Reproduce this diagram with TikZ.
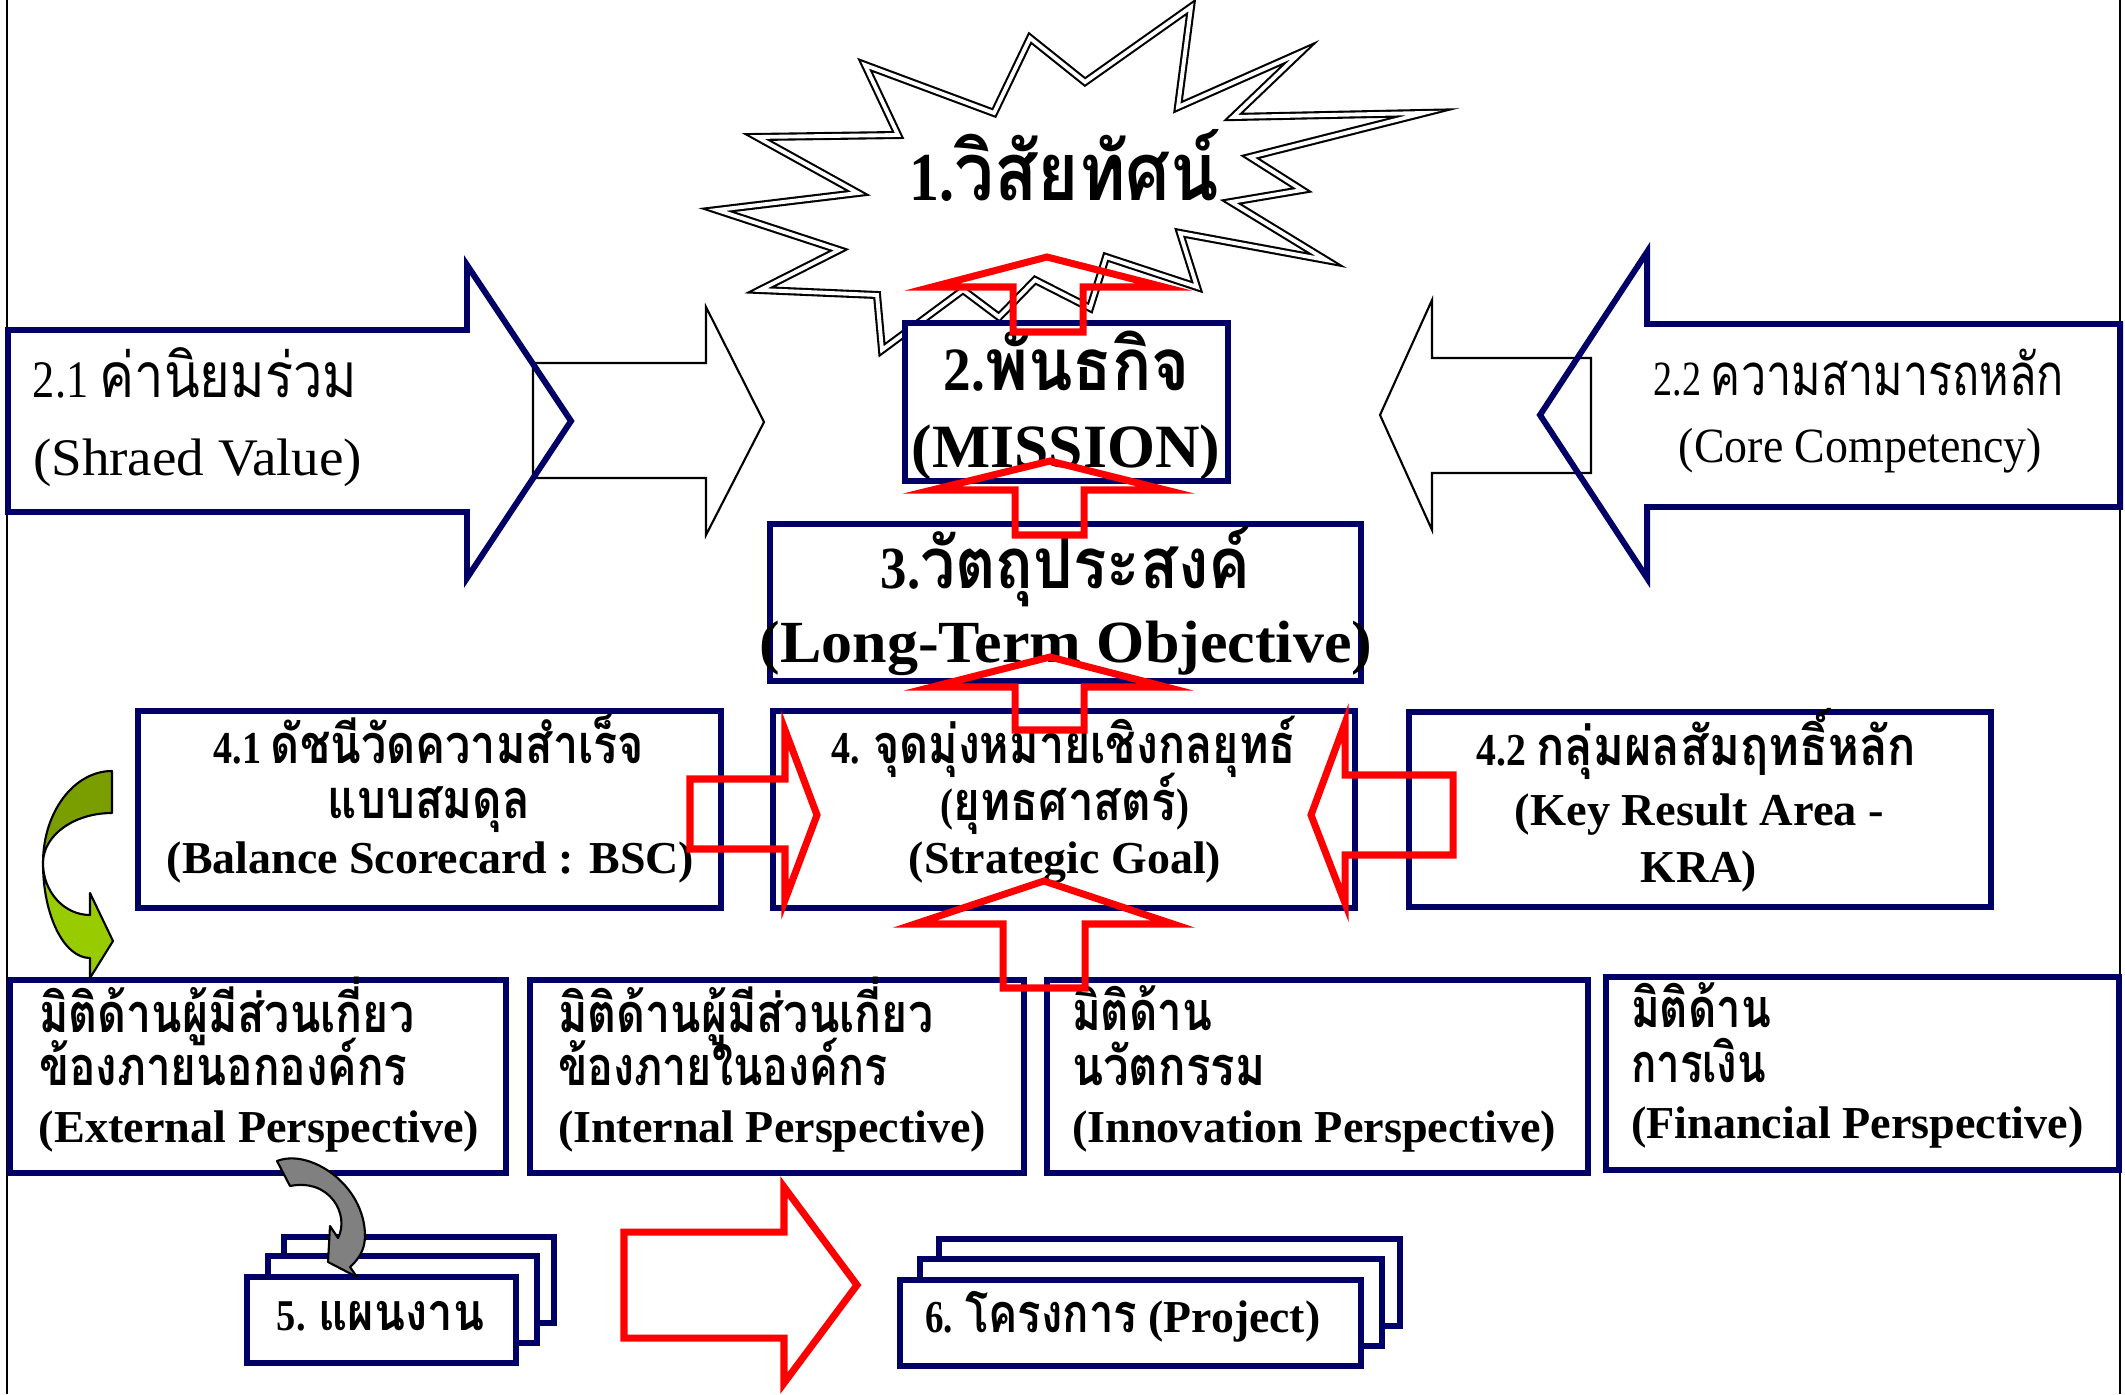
\documentclass[tikz,border=0pt]{standalone}
\usepackage{fontspec}
\usepackage{graphicx}
\setmainfont{Liberation Serif}
\newfontfamily\thf[Script=Thai,Scale=1.18]{Loma}
\newcommand\T[1]{{\thf #1}}
\newcommand\fw[2]{\resizebox{#1cm}{\height}{#2}}
\definecolor{navyc}{RGB}{0,0,102}
\definecolor{olivec}{RGB}{122,158,0}
\definecolor{limec}{RGB}{153,204,0}
\definecolor{grayc}{RGB}{128,128,128}
\begin{document}
\begin{tikzpicture}[x=0.01cm,y=-0.01cm,
  navybox/.style={draw=navyc,line width=1.7pt,fill=white,inner sep=0pt,outer sep=0pt},
  redarrow/.style={draw=red,line width=2pt,line join=miter},
  navyarrow/.style={draw=navyc,line width=1.7pt,line join=miter},
  thinarrow/.style={draw=black,line width=0.6pt,fill=white,line join=miter},
  starshape/.style={draw=black,double=white,line width=0.6pt,double distance=1.1pt,fill=white,line join=miter},
  curvedarrow/.style={draw=black,line width=0.6pt,line join=round},
  txt/.style={inner sep=0pt,outer sep=0pt},
  fstar/.style={txt,font=\fontsize{19.5}{22}\selectfont\bfseries},
  fbig/.style={txt,font=\fontsize{17.5}{20}\selectfont\bfseries},
  fobj/.style={txt,font=\fontsize{17}{20}\selectfont\bfseries},
  fmid/.style={txt,font=\fontsize{13}{15}\selectfont\bfseries},
  fsmall/.style={txt,font=\fontsize{12.5}{15}\selectfont\bfseries},
  freg/.style={txt,font=\fontsize{15}{18}\selectfont},
  fregb/.style={txt,font=\fontsize{14}{17}\selectfont}
]
\useasboundingbox (0,0) rectangle (2125,1394);

% frame sides
\coordinate (fl1) at (7,0); \coordinate (fl2) at (7,1394);
\coordinate (fr1) at (2120,0); \coordinate (fr2) at (2120,1394);
\draw[line width=0.6pt] (fl1) -- (fl2);
\draw[line width=0.6pt] (fr1) -- (fr2);

% thin white arrows
\draw[thinarrow] (533,363) -- (706,363) -- (706,307) -- (764,422) -- (706,535) -- (706,478) -- (533,478) -- cycle;
\draw[thinarrow] (1591,358) -- (1432,358) -- (1432,300) -- (1380,415) -- (1432,530) -- (1432,473) -- (1591,473) -- cycle;

% starburst
\draw[starshape] (1191,7) -- (1178,107) -- (1300,53) -- (1233,117) -- (1424,113) -- (1250,157)
  -- (1302,190) -- (1231,202) -- (1326,260) -- (1180,233) -- (1197,287) -- (1106,257)
  -- (1090,308) -- (1035,280) -- (999,317) -- (963,290) -- (882,350) -- (877,295)
  -- (760,290) -- (839,250) -- (717,210) -- (858,193) -- (757,137) -- (898,135)
  -- (865,65) -- (994,113) -- (1030,38) -- (1085,82) -- cycle;
\node[fstar,anchor=base] (vision) at (1064.5,200) {\fw{3.09}{1.\T{วิสัยทัศน์}}};

% big navy arrows
\draw[navyarrow] (8,330) -- (467,330) -- (467,265) -- (571,421) -- (467,578) -- (467,512) -- (8,512) -- cycle;
\draw[navyarrow] (2120,324) -- (1647,324) -- (1647,252) -- (1540,415) -- (1647,578) -- (1647,507) -- (2120,507) -- cycle;
\node[freg,anchor=base west] (sv1) at (33,397) {\fw{3.24}{2.1 \T{ค่านิยมร่วม}}};
\node[freg,anchor=base west] (sv2) at (33,475) {\fw{3.29}{(Shraed Value)}};
\node[fregb,anchor=base] (cc1) at (1859,395) {\fw{4.10}{2.2 \T{ความสามารถหลัก}}};
\node[fregb,anchor=base] (cc2) at (1860.5,462) {\fw{3.63}{(Core Competency)}};

% main boxes
\node[navybox,minimum width=3.23cm,minimum height=1.58cm] (mission) at (1066.5,402) {};
\node[navybox,minimum width=5.91cm,minimum height=1.57cm] (objective) at (1065.5,602.5) {};
\node[navybox,minimum width=5.83cm,minimum height=1.97cm] (bsc) at (429.5,809.5) {};
\node[navybox,minimum width=5.82cm,minimum height=1.97cm] (goal) at (1064,809.5) {};
\node[navybox,minimum width=5.82cm,minimum height=1.95cm] (kra) at (1700,809.5) {};
\node[navybox,minimum width=4.96cm,minimum height=1.93cm] (pext) at (258,1076.5) {};
\node[navybox,minimum width=4.94cm,minimum height=1.93cm] (pint) at (777,1076.5) {};
\node[navybox,minimum width=5.41cm,minimum height=1.93cm] (pinn) at (1317.5,1076.5) {};
\node[navybox,minimum width=5.13cm,minimum height=1.93cm] (pfin) at (1862.5,1073.5) {};

% stacked boxes
\node[navybox,minimum width=2.70cm,minimum height=0.86cm] (planC) at (419,1280) {};
\node[navybox,minimum width=2.69cm,minimum height=0.87cm] (planB) at (402.5,1299.5) {};
\node[navybox,minimum width=2.69cm,minimum height=0.86cm] (planA) at (381.5,1320) {};
\node[navybox,minimum width=4.61cm,minimum height=0.87cm] (projC) at (1169.5,1282.5) {};
\node[navybox,minimum width=4.62cm,minimum height=0.87cm] (projB) at (1151,1302.5) {};
\node[navybox,minimum width=4.61cm,minimum height=0.86cm] (projA) at (1130.5,1323) {};

% texts
\node[fbig,anchor=base] (mis1) at (1067,390) {\fw{2.46}{2.\T{พันธกิจ}}};
\node[fbig,anchor=base] (mis2) at (1066,467) {\fw{3.08}{(MISSION)}};
\node[fobj,anchor=base] (obj1) at (1065.5,588) {\fw{3.69}{3.\T{วัตถุประสงค์}}};
\node[fobj,anchor=base] (obj2) at (1066,662) {\fw{6.12}{(Long-Term Objective)}};

\node[fmid,anchor=base] (bsc1) at (429,763) {\fw{4.30}{4.1 \T{ดัชนีวัดความสำเร็จ}}};
\node[fmid,anchor=base] (bsc2) at (429,818) {\fw{2.02}{\T{แบบสมดุล}}};
\node[fmid,anchor=base] (bsc3) at (430.5,873) {\fw{5.27}{(Balance Scorecard : BSC)}};

\node[fmid,anchor=base] (goal1) at (1064,763) {\fw{4.64}{4. \T{จุดมุ่งหมายเชิงกลยุทธ์}}};
\node[fmid,anchor=base] (goal2) at (1065,820) {\fw{2.48}{(\T{ยุทธศาสตร์})}};
\node[fmid,anchor=base] (goal3) at (1065,873) {\fw{3.12}{(Strategic Goal)}};

\node[fmid,anchor=base] (kra1) at (1696.5,765) {\fw{4.39}{4.2 \T{กลุ่มผลสัมฤทธิ์หลัก}}};
\node[fmid,anchor=base] (kra2) at (1699.5,825) {\fw{3.69}{(Key Result Area -}};
\node[fmid,anchor=base] (kra3) at (1699,882) {\fw{1.16}{KRA)}};

\node[fmid,anchor=base west] (ext1) at (39,1032) {\fw{3.75}{\T{มิติด้านผู้มีส่วนเกี่ยว}}};
\node[fmid,anchor=base west] (ext2) at (39,1085) {\fw{3.68}{\T{ข้องภายนอกองค์กร}}};
\node[fmid,anchor=base west] (ext3) at (39,1142) {\fw{4.40}{(External Perspective)}};

\node[fmid,anchor=base west] (int1) at (558,1032) {\fw{3.75}{\T{มิติด้านผู้มีส่วนเกี่ยว}}};
\node[fmid,anchor=base west] (int2) at (558,1085) {\fw{3.29}{\T{ข้องภายในองค์กร}}};
\node[fmid,anchor=base west] (int3) at (558,1142) {\fw{4.28}{(Internal Perspective)}};

\node[fmid,anchor=base west] (inn1) at (1072,1030) {\fw{1.40}{\T{มิติด้าน}}};
\node[fmid,anchor=base west] (inn2) at (1072,1085) {\fw{1.93}{\T{นวัตกรรม}}};
\node[fmid,anchor=base west] (inn3) at (1072,1142) {\fw{4.84}{(Innovation Perspective)}};

\node[fmid,anchor=base west] (fin1) at (1631,1027) {\fw{1.40}{\T{มิติด้าน}}};
\node[fmid,anchor=base west] (fin2) at (1631,1082) {\fw{1.35}{\T{การเงิน}}};
\node[fmid,anchor=base west] (fin3) at (1631,1138) {\fw{4.52}{(Financial Perspective)}};

\node[fsmall,anchor=base] (plan) at (380.5,1330) {\fw{2.07}{5. \T{แผนงาน}}};
\node[fmid,anchor=base west] (proj) at (925,1332) {\fw{2.12}{6. \T{โครงการ}} (Project)};

% green curved arrow
\fill[olivec] (112,771) .. controls (73.9,771) and (43,812.2) .. (43,863)
  .. controls (43,835.4) and (73.9,813) .. (112,813) -- cycle;
\draw[curvedarrow] (112,771) .. controls (73.9,771) and (43,812.2) .. (43,863)
  .. controls (43,835.4) and (73.9,813) .. (112,813) -- cycle;
\draw[curvedarrow,fill=limec] (43,863) .. controls (43,891.7) and (64,915) .. (90,915)
  -- (90,893) -- (113,941) -- (90,978) -- (90,958)
  .. controls (64,958) and (43,915.5) .. (43,863) -- cycle;

% gray curved arrow
\draw[curvedarrow,fill=grayc] (277,1161) .. controls (310,1148) and (365,1185) .. (365,1236)
  .. controls (365,1250) and (358,1260) .. (350,1267) -- (357,1277) -- (328,1262)
  -- (330,1226) -- (338,1238) .. controls (350,1215) and (330,1178) .. (290,1186) -- cycle;

% red block arrows
\draw[redarrow] (1013,332) -- (1013,287) -- (932,287) -- (1047,257) -- (1164,287) -- (1083,287) -- (1083,332) -- cycle;
\draw[redarrow] (1015,535) -- (1015,490) -- (932,490) -- (1050,461) -- (1166,490) -- (1084,490) -- (1084,535) -- cycle;
\draw[redarrow] (1015,730) -- (1015,687) -- (932,687) -- (1050,657) -- (1166,687) -- (1084,687) -- (1084,730) -- cycle;
\draw[redarrow] (1003,988) -- (1003,924) -- (915,924) -- (1044,881) -- (1173,924) -- (1085,924) -- (1085,988) -- cycle;
\draw[redarrow] (690,779) -- (785,779) -- (785,730) -- (817,815) -- (785,900) -- (785,849) -- (690,849) -- cycle;
\draw[redarrow] (1453,775) -- (1345,775) -- (1345,723) -- (1311,815) -- (1345,903) -- (1345,855) -- (1453,855) -- cycle;
\draw[redarrow] (624,1232) -- (784,1232) -- (784,1187) -- (857,1285) -- (784,1383) -- (784,1338) -- (624,1338) -- cycle;
\end{tikzpicture}
\end{document}
